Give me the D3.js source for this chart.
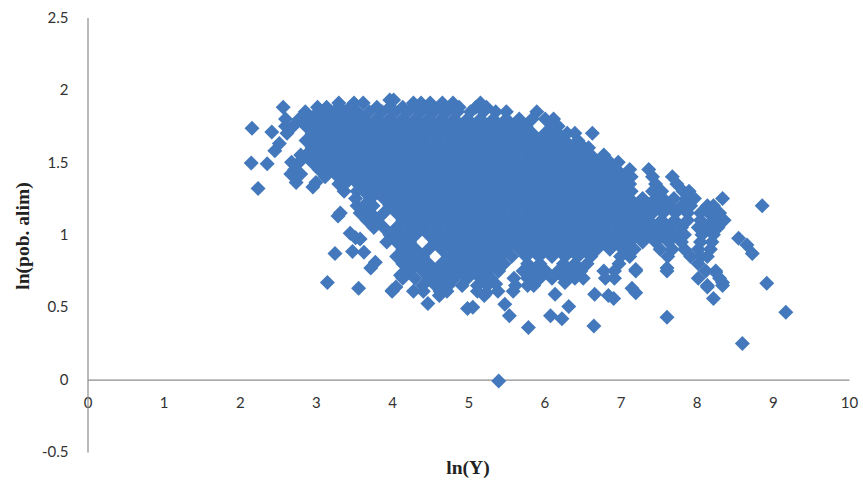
<!DOCTYPE html>
<html>
<head>
<meta charset="utf-8">
<script src="https://cdn.jsdelivr.net/npm/d3@7"></script>
<style>
    html, body { margin: 0; background: #fff; }
    svg { display: block; }
    .tick text { font-family: "Lato", sans-serif; font-size: 15px; fill: #333; }
    .axis-title { font-family: "Liberation Serif", serif; font-size: 19.5px; font-weight: bold; fill: #222; }
</style>
</head>
<body>
<script>
const svgWidth = 863;
const svgHeight = 485;

const xTicks = [0, 1, 2, 3, 4, 5, 6, 7, 8, 9, 10];
const yTicks = [-0.5, 0, 0.5, 1, 1.5, 2, 2.5];
const xLabel = "ln(Y)";
const yLabel = "ln(pob. alim)";

// the solid part of the cloud, read row by row: [ln(pob. alim), [ln(Y), ...]]
const upperRows = [
    [1.93, [3.97, 4.02]],
    [1.91, [3.3, 3.5, 3.62, 4.28, 4.38, 4.5, 4.66, 4.8, 5.16]],
    [1.88, [2.57, 3.02, 3.14, 3.3, 3.45, 3.8, 3.97, 4.14, 4.3, 4.46, 4.62, 4.78, 4.88, 5.1, 5.24]],
    [1.85, [2.86, 3.03, 3.2, 3.37, 3.54, 3.7, 3.87, 4.04, 4.21, 4.38, 4.55, 4.72, 4.86, 5.03, 5.2, 5.36, 5.5, 5.9]],
    [1.8, [2.6, 2.78, 2.95, 3.12, 3.29, 3.46, 3.63, 3.8, 3.97, 4.14, 4.31, 4.48, 4.65, 4.82, 4.99, 5.16, 5.33, 5.5, 5.67, 5.84, 6.01, 6.12]],
    [1.75, [2.6, 2.7, 2.87, 3.04, 3.21, 3.38, 3.55, 3.72, 3.89, 4.06, 4.23, 4.4, 4.57, 4.74, 4.91, 5.08, 5.25, 5.42, 5.59, 5.76, 6.1, 6.18]],
    [1.7, [2.62, 2.95, 3.12, 3.29, 3.46, 3.63, 3.8, 3.97, 4.14, 4.31, 4.48, 4.65, 4.82, 4.99, 5.16, 5.33, 5.5, 5.67, 5.84, 6.01, 6.18, 6.3, 6.4, 6.63]],
    [1.65, [2.87, 3.04, 3.21, 3.38, 3.55, 3.72, 3.89, 4.06, 4.23, 4.4, 4.57, 4.74, 4.91, 5.08, 5.25, 5.42, 5.59, 5.76, 5.93, 6.1, 6.27, 6.44]],
    [1.6, [2.95, 3.12, 3.29, 3.46, 3.63, 3.8, 3.97, 4.14, 4.31, 4.48, 4.65, 4.82, 4.99, 5.16, 5.33, 5.5, 5.67, 5.84, 6.01, 6.18, 6.35, 6.52, 6.58]],
    [1.55, [2.8, 2.87, 3.04, 3.21, 3.38, 3.55, 3.72, 3.89, 4.06, 4.23, 4.4, 4.57, 4.74, 4.91, 5.08, 5.25, 5.42, 5.59, 5.76, 5.93, 6.1, 6.27, 6.44, 6.61, 6.78]],
    [1.5, [2.68, 2.78, 2.95, 3.12, 3.29, 3.46, 3.63, 3.8, 3.97, 4.14, 4.31, 4.48, 4.65, 4.82, 4.99, 5.16, 5.33, 5.5, 5.67, 5.84, 6.01, 6.18, 6.35, 6.52, 6.69, 6.86, 6.97]],
    [1.45, [2.72, 3.04, 3.21, 3.38, 3.55, 3.72, 3.89, 4.06, 4.23, 4.4, 4.57, 4.74, 4.91, 5.08, 5.25, 5.42, 5.59, 5.76, 5.93, 6.1, 6.27, 6.44, 6.61, 6.78, 6.95, 7.12, 7.37]],
    [1.4, [3.12, 3.29, 3.46, 3.63, 3.8, 3.97, 4.14, 4.31, 4.48, 4.65, 4.82, 4.99, 5.16, 5.33, 5.5, 5.67, 5.84, 6.01, 6.18, 6.35, 6.52, 6.69, 6.86, 7.03, 7.14, 7.42, 7.68]],
    [1.35, [3.3, 3.38, 3.55, 3.72, 3.89, 4.06, 4.23, 4.4, 4.57, 4.74, 4.91, 5.08, 5.25, 5.42, 5.59, 5.76, 5.93, 6.1, 6.27, 6.44, 6.61, 6.78, 6.95, 7.12, 7.46, 7.74]],
    [1.3, [3.37, 3.54, 3.63, 3.8, 3.97, 4.14, 4.31, 4.48, 4.65, 4.82, 4.99, 5.16, 5.33, 5.5, 5.67, 5.84, 6.01, 6.18, 6.35, 6.52, 6.69, 6.86, 7.03, 7.14, 7.42, 7.54, 7.82, 7.9]],
    [1.25, [3.52, 3.72, 3.89, 4.06, 4.23, 4.4, 4.57, 4.74, 4.91, 5.08, 5.25, 5.42, 5.59, 5.76, 5.93, 6.1, 6.27, 6.44, 6.61, 6.78, 6.95, 7.12, 7.29, 7.46, 7.56, 7.7, 7.86, 7.97, 8.34]],
    [1.2, [3.54, 3.63, 3.75, 3.97, 4.14, 4.31, 4.48, 4.65, 4.82, 4.99, 5.16, 5.33, 5.5, 5.67, 5.84, 6.01, 6.18, 6.35, 6.52, 6.69, 6.86, 7.03, 7.2, 7.37, 7.5, 7.64, 7.8, 7.92, 8.14, 8.22, 8.86]],
    [1.15, [3.58, 3.72, 3.89, 4.06, 4.23, 4.4, 4.57, 4.74, 4.91, 5.08, 5.25, 5.42, 5.59, 5.76, 5.93, 6.1, 6.27, 6.44, 6.61, 6.78, 6.95, 7.12, 7.29, 7.42, 7.56, 7.72, 7.88, 8.05, 8.16, 8.3]],
    [1.1, [3.67, 3.8, 4.14, 4.31, 4.48, 4.65, 4.82, 4.99, 5.16, 5.33, 5.5, 5.67, 5.84, 6.01, 6.18, 6.35, 6.52, 6.69, 6.86, 7.03, 7.2, 7.37, 7.54, 7.71, 7.88, 8.05, 8.22, 8.36]],
    [1.05, [3.76, 3.89, 4.06, 4.23, 4.4, 4.57, 4.74, 4.91, 5.08, 5.25, 5.42, 5.59, 5.76, 5.93, 6.1, 6.27, 6.44, 6.61, 6.78, 6.95, 7.12, 7.29, 7.46, 7.63, 7.8, 8.02, 8.14, 8.28]]
];

const lowerRows = [
    [1, [3.97, 4.14, 4.31, 4.48, 4.65, 4.82, 4.99, 5.16, 5.33, 5.5, 5.67, 5.84, 6.01, 6.18, 6.35, 6.52, 6.69, 6.86, 7.03, 7.2, 7.37, 7.54, 7.71, 7.84, 8.07, 8.22]],
    [0.95, [3.93, 4.06, 4.23, 4.57, 4.74, 4.91, 5.08, 5.25, 5.42, 5.59, 5.76, 5.93, 6.1, 6.27, 6.44, 6.61, 6.78, 6.95, 7.12, 7.29, 7.46, 7.63, 7.8, 8.05, 8.2]],
    [0.9, [4.14, 4.31, 4.48, 4.65, 4.82, 4.99, 5.16, 5.33, 5.5, 5.67, 5.84, 6.01, 6.18, 6.35, 6.52, 6.69, 6.86, 7.03, 7.18, 7.52, 7.68, 7.84, 8.02, 8.18]],
    [0.85, [4.06, 4.23, 4.4, 4.74, 4.91, 5.08, 5.25, 5.42, 5.57, 5.76, 5.93, 6.1, 6.27, 6.44, 6.61, 7.0, 7.12, 7.62, 7.92, 8.06, 8.14]],
    [0.8, [4.14, 4.31, 4.48, 4.65, 4.82, 4.99, 5.16, 5.33, 5.47, 5.78, 5.94, 6.25, 6.4, 6.56, 6.98, 8.02]],
    [0.75, [4.23, 4.4, 4.57, 4.74, 4.91, 5.08, 5.25, 5.4, 5.72, 5.86, 6.02, 6.18, 6.34, 6.48, 6.78, 6.92, 7.2, 7.61, 8.12, 8.25]],
    [0.7, [4.14, 4.3, 4.48, 4.65, 4.82, 4.99, 5.16, 5.3, 5.6, 5.78, 5.94, 6.1, 6.26, 6.4, 6.51, 6.8, 6.92, 8.02, 8.3]],
    [0.65, [4.4, 4.57, 4.74, 4.92, 5.12, 5.25, 5.62, 5.78, 5.86, 8.14, 8.34]],
    [0.61, [4.0, 4.28, 4.41, 4.63, 4.72, 5.12, 5.39, 5.59]]
];

// points that stand apart from the cloud
const fringeX = [5.4, 2.16, 2.15, 2.24, 2.36, 2.42, 2.46, 2.52, 2.74, 2.67, 2.8, 2.96, 3.0, 3.29, 3.32, 3.25, 3.15, 3.56, 3.45, 3.52, 3.58, 3.48, 3.63, 3.78, 3.72, 4.0, 4.05, 4.11, 4.47, 4.62, 4.99, 5.06, 5.21, 5.24, 5.36, 5.48, 5.54, 5.79, 6.08, 6.14, 6.23, 6.27, 6.32, 6.65, 6.66, 6.84, 6.91, 7.15, 7.2, 7.2, 7.61, 7.61, 8.22, 8.14, 8.25, 8.34, 8.55, 8.6, 8.66, 8.73, 8.92, 9.17];
const fringeY = [-0.01, 1.735, 1.495, 1.32, 1.49, 1.71, 1.58, 1.63, 1.36, 1.42, 1.42, 1.33, 1.36, 1.13, 1.15, 0.87, 0.67, 0.63, 1.01, 0.98, 0.97, 0.885, 0.88, 0.81, 0.77, 0.615, 0.64, 0.72, 0.525, 0.58, 0.49, 0.5, 0.58, 0.6, 0.66, 0.52, 0.44, 0.36, 0.44, 0.59, 0.42, 0.67, 0.505, 0.37, 0.59, 0.58, 0.56, 0.63, 0.6, 0.76, 0.43, 0.77, 0.56, 0.64, 0.74, 0.67, 0.975, 0.25, 0.93, 0.87, 0.665, 0.465];

const config = {
    left: 87.5,
    right: 849,
    top: 17.5,
    bottom: 452,
    diamond: 7.5,
    color: "#4379bc",
    axisColor: "#8c8c8c"
}

const svg = d3.select("body")
    .append("svg")
    .attr("width", svgWidth)
    .attr("height", svgHeight);

const scaleX = d3.scaleLinear().domain([0, 10]).range([config.left, config.right]);
const scaleY = d3.scaleLinear().domain([-0.5, 2.5]).range([config.bottom, config.top]);

const rowPoints = upperRows.concat(lowerRows)
    .flatMap(([y, xs]) => xs.map(x => ({x: x, y: y})));
const fringePoints = fringeX.map((x, i) => ({x: x, y: fringeY[i]}));
const points = rowPoints.concat(fringePoints);

// axes cross at zero, as in the spreadsheet chart
const xAxis = svg.append("g")
    .attr("transform", `translate(0,${scaleY(0)})`)
    .call(d3.axisBottom(scaleX)
        .tickValues(xTicks)
        .tickSize(0)
        .tickPadding(18)
        .tickFormat(d3.format("d")));

const yAxis = svg.append("g")
    .attr("transform", `translate(${scaleX(0)},0)`)
    .call(d3.axisLeft(scaleY)
        .tickValues(yTicks)
        .tickSize(0)
        .tickPadding(19)
        .tickFormat(d => String(d)));

svg.selectAll(".domain")
    .attr("stroke", config.axisColor)
    .attr("stroke-width", 1.2);

// diamonds
const half = config.diamond;
svg.append("g")
    .selectAll("path")
    .data(points)
    .join("path")
    .attr("transform", d => `translate(${scaleX(d.x)},${scaleY(d.y)})`)
    .attr("d", `M0,${-half}L${half},0L0,${half}L${-half},0Z`)
    .attr("fill", config.color);

svg.append("text")
    .attr("class", "axis-title")
    .attr("x", 468)
    .attr("y", 474)
    .attr("text-anchor", "middle")
    .text(xLabel);

svg.append("text")
    .attr("class", "axis-title")
    .attr("transform", "translate(29,236) rotate(-90)")
    .attr("text-anchor", "middle")
    .text(yLabel);
</script>
</body>
</html>
